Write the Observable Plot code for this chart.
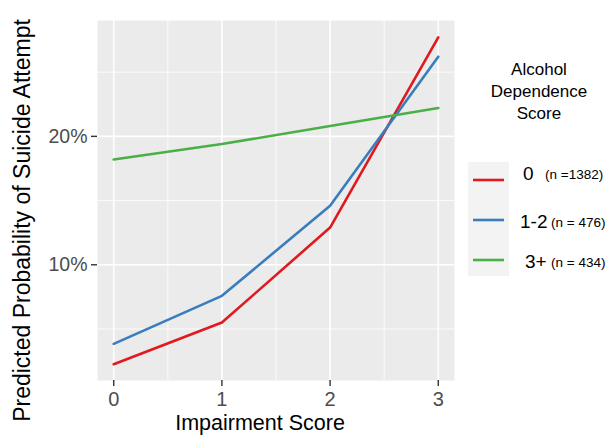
<!DOCTYPE html>
<html><head><meta charset="utf-8">
<script src="https://cdn.jsdelivr.net/npm/d3@7"></script>
<script src="https://cdn.jsdelivr.net/npm/@observablehq/plot@0.6"></script>
<style>body{margin:0;background:#fff;font-family:"Liberation Sans",Arial,sans-serif}</style>
</head><body><div id="chart"></div>
<script>
const scores = [0, 1, 2, 3];
const groups = ["0", "1-2", "3+"];
const groupN = ["(n =1382)", "(n = 476)", "(n = 434)"];
const groupColors = ["#e0191e", "#3a7dbd", "#4aaf47"];
const prob0 = [0.0226, 0.055, 0.129, 0.277];
const prob12 = [0.0384, 0.0758, 0.146, 0.262];
const prob3p = [0.182, 0.194, 0.208, 0.222];
const yTicks = [0.1, 0.2];
const yMinor = [0.05, 0.15, 0.25];
const xMinor = [0.5, 1.5, 2.5];
const legendTitle = ["Alcohol", "Dependence", "Score"];

const series = [prob0, prob12, prob3p];
const data = [];
series.forEach((vals, gi) => vals.forEach((v, i) => data.push({score: scores[i], p: v, group: groups[gi]})));

const plot = Plot.plot({
  width: 611, height: 436,
  marginLeft: 97, marginRight: 157, marginTop: 20, marginBottom: 56,
  style: {fontFamily: "Liberation Sans, Arial, sans-serif", fontSize: "19px", color: "#4d4d4d", background: "#fff", overflow: "visible"},
  x: {domain: [-0.15, 3.15]},
  y: {domain: [0.0099, 0.2902]},
  color: {domain: groups, range: groupColors},
  marks: [
    Plot.frame({fill: "#ebebeb", stroke: null}),
    Plot.ruleY(yMinor, {stroke: "#fff", strokeWidth: 0.8}),
    Plot.ruleX(xMinor, {stroke: "#fff", strokeWidth: 0.8}),
    Plot.ruleY(yTicks, {stroke: "#fff", strokeWidth: 1.6}),
    Plot.ruleX(scores, {stroke: "#fff", strokeWidth: 1.6}),
    Plot.axisY(yTicks, {tickFormat: d3.format(".0%"), tickSize: 6, tickPadding: 4, stroke: "#333", strokeWidth: 1.4, fill: "#4d4d4d", fontSize: 19.5, label: null}),
    Plot.axisX(scores, {tickFormat: d => String(d), tickSize: 6, tickPadding: 5, stroke: "#333", strokeWidth: 1.4, fill: "#4d4d4d", fontSize: 20, label: null}),
    Plot.line(data, {x: "score", y: "p", stroke: "group", strokeWidth: 2.6, z: "group"}),
    Plot.text(["Impairment Score"], {frameAnchor: "bottom", lineAnchor: "middle", textAnchor: "middle", dy: 43, dx: -16, fontSize: 21.5, fill: "#000"}),
    Plot.text(["Predicted Probability of Suicide Attempt"], {frameAnchor: "left", lineAnchor: "middle", textAnchor: "middle", rotate: -90, dx: -75, dy: 20, fontSize: 23, fill: "#000"})
  ]
});
document.getElementById("chart").appendChild(plot);

// legend inside the same SVG
const svg = d3.select(plot);
const lg = svg.append("g").attr("font-family", "Liberation Sans, Arial, sans-serif");
legendTitle.forEach((t, i) =>
  lg.append("text").attr("x", 539).attr("y", 75 + i * 22).attr("text-anchor", "middle").attr("font-size", 17).attr("fill", "#000").text(t));
lg.append("rect").attr("x", 468).attr("y", 162).attr("width", 41).attr("height", 114).attr("fill", "#f3f3f3");
const labelX = [523, 520, 525];
const nX = [545, 551, 551];
groups.forEach((g, i) => {
  const y = 180 + i * 40;
  lg.append("line").attr("x1", 473).attr("x2", 504).attr("y1", y).attr("y2", y).attr("stroke", groupColors[i]).attr("stroke-width", 2.6);
  lg.append("text").attr("x", labelX[i]).attr("y", y + (i === 0 ? 0 : 8)).attr("text-anchor", "start").attr("font-size", 19).attr("fill", "#000").text(g);
  lg.append("text").attr("x", nX[i]).attr("y", y + (i === 0 ? 0 : 8) - 1).attr("text-anchor", "start").attr("font-size", 13.5).attr("fill", "#000").text(groupN[i]);
});
</script></body></html>
